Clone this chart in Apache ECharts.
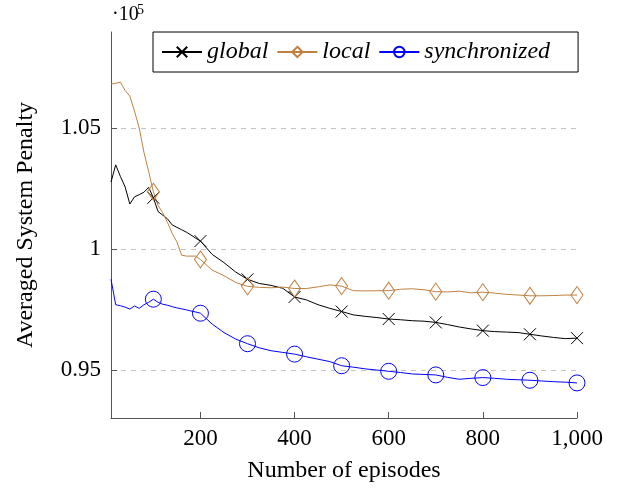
<!DOCTYPE html>
<html>
<head>
<meta charset="utf-8">
<script src="https://cdn.jsdelivr.net/npm/echarts@6/dist/echarts.min.js"></script>
<style>
  html, body { margin: 0; padding: 0; background: #fff; }
  #chart { width: 624px; height: 491px; }
</style>
</head>
<body>
<div id="chart"></div>
<script>
// episodes (x), values in units of 10^5
const episodes = [10, 20, 30, 40, 50, 60, 70, 80, 90, 100,
  110, 120, 130, 140, 150, 160, 170, 180, 190, 200,
  225, 250, 275, 300, 325, 350, 375, 400, 425, 450, 475, 500,
  525, 550, 575, 600, 625, 650, 675, 700, 725, 750, 775, 800,
  825, 850, 875, 900, 925, 950, 975, 1000]

const globalVals = [1.0277, 1.0348, 1.0300, 1.0257, 1.0186, 1.0216, 1.0225, 1.0235, 1.0255, 1.0212,
  1.0155, 1.0140, 1.0125, 1.0100, 1.0090, 1.0080, 1.0070, 1.0058, 1.0045, 1.0033,
  0.9978, 0.9944, 0.9905, 0.9875, 0.9858, 0.9850, 0.9838, 0.9802, 0.9790, 0.9770, 0.9755, 0.9742,
  0.9728, 0.9722, 0.9717, 0.9711, 0.9708, 0.9704, 0.9702, 0.9697, 0.9688, 0.9678, 0.9670, 0.9663,
  0.9659, 0.9657, 0.9655, 0.9648, 0.9641, 0.9635, 0.9630, 0.9632]

const localVals = [1.0682, 1.0685, 1.0690, 1.0655, 1.0632, 1.0570, 1.0500, 1.0400, 1.0320, 1.0237,
  1.0180, 1.0150, 1.0110, 1.0065, 1.0030, 0.9975, 0.9971, 0.9971, 0.9971, 0.9957,
  0.9913, 0.9890, 0.9862, 0.9846, 0.9842, 0.9840, 0.9843, 0.9837, 0.9837, 0.9844, 0.9852, 0.9847,
  0.9828, 0.9827, 0.9828, 0.9828, 0.9834, 0.9836, 0.9832, 0.9824, 0.9823, 0.9826, 0.9819, 0.9822,
  0.9818, 0.9813, 0.9810, 0.9807, 0.9807, 0.9808, 0.9810, 0.9810]

const syncVals = [0.9875, 0.9770, 0.9766, 0.9760, 0.9752, 0.9765, 0.9755, 0.9770, 0.9780, 0.9793,
  0.9780, 0.9772, 0.9768, 0.9762, 0.9757, 0.9753, 0.9749, 0.9744, 0.9740, 0.9735,
  0.9690, 0.9655, 0.9628, 0.9609, 0.9592, 0.9580, 0.9573, 0.9566, 0.9555, 0.9545, 0.9535, 0.9518,
  0.9512, 0.9505, 0.9500, 0.9495, 0.9490, 0.9484, 0.9482, 0.9480, 0.9470, 0.9462, 0.9466, 0.9469,
  0.9466, 0.9462, 0.9460, 0.9458, 0.9455, 0.9452, 0.9450, 0.9447]

const xTicks = [200, 400, 600, 800, 1000]
const yTicks = [0.95, 1.0, 1.05]

const FONT = '"Liberation Serif", "Times New Roman", serif'
const crossPath = 'path://M0,0L10,10M10,0L0,10'

// marks only every 100 episodes, like the original plot
let toPoints = vals => vals.map((v, i) => {
  let ep = episodes[i]
  return ep % 100 === 0 ? [ep, v] : { value: [ep, v], symbol: 'none' }
})

let makeSeries = (name, vals, color, symbol, size) => ({
  name: name,
  type: 'line',
  data: toPoints(vals),
  symbol: symbol,
  symbolSize: size,
  showAllSymbol: true,
  animation: false,
  lineStyle: { color: color, width: 1 },
  itemStyle: { color: 'rgba(0,0,0,0)', borderColor: color, borderWidth: 1 },
  emphasis: { disabled: true }
})

let chart = echarts.init(document.getElementById('chart'))
chart.setOption({
  animation: false,
  grid: { left: 111, right: 47, top: 32, bottom: 73 },
  legend: {
    left: 153,
    top: 32,
    padding: [7, 28, 7, 8],
    itemGap: 8,
    itemWidth: 40,
    itemHeight: 13,
    borderColor: '#000',
    borderWidth: 1,
    textStyle: { fontFamily: FONT, fontStyle: 'italic', fontSize: 24, color: '#000', lineHeight: 26 },
    data: ['global', 'local', 'synchronized']
  },
  xAxis: {
    type: 'value',
    min: 10,
    max: 1000,
    name: 'Number of episodes',
    nameLocation: 'middle',
    nameGap: 41,
    nameTextStyle: { fontFamily: FONT, fontSize: 24, color: '#000' },
    axisLine: { lineStyle: { color: '#555', width: 1 } },
    axisTick: { inside: true, length: 6, lineStyle: { color: '#555' }, customValues: xTicks },
    axisLabel: {
      fontFamily: FONT, fontSize: 23, color: '#000', margin: 9,
      customValues: xTicks,
      formatter: v => v >= 1000 ? Math.floor(v / 1000) + ',' + String(v % 1000).padStart(3, '0') : String(v)
    },
    splitLine: { show: false }
  },
  yAxis: {
    type: 'value',
    min: 0.9302,
    max: 1.0897,
    name: 'Averaged System Penalty',
    nameLocation: 'middle',
    nameGap: 73,
    nameTextStyle: { fontFamily: FONT, fontSize: 24, color: '#000' },
    axisLine: { show: true, lineStyle: { color: '#555', width: 1 } },
    axisTick: { show: true, inside: true, length: 6, lineStyle: { color: '#555' }, customValues: yTicks },
    axisLabel: {
      fontFamily: FONT, fontSize: 23, color: '#000', margin: 10,
      customValues: yTicks,
      formatter: v => String(+v.toFixed(2))
    },
    splitLine: { show: true, lineStyle: { color: '#c4c4c4', width: 1, type: [5, 5] } }
  },
  graphic: [
    {
      type: 'text',
      x: 112,
      y: 5,
      style: { text: '·10', font: '20px "Liberation Serif"', fill: '#000' }
    },
    {
      type: 'text',
      x: 137,
      y: 3,
      style: { text: '5', font: '14px "Liberation Serif"', fill: '#000' }
    }
  ],
  series: [
    makeSeries('global', globalVals, '#000000', crossPath, 12),
    makeSeries('local', localVals, '#bf8040', 'diamond', [12, 17]),
    makeSeries('synchronized', syncVals, '#0000ff', 'circle', 16)
  ]
})
</script>
</body>
</html>
